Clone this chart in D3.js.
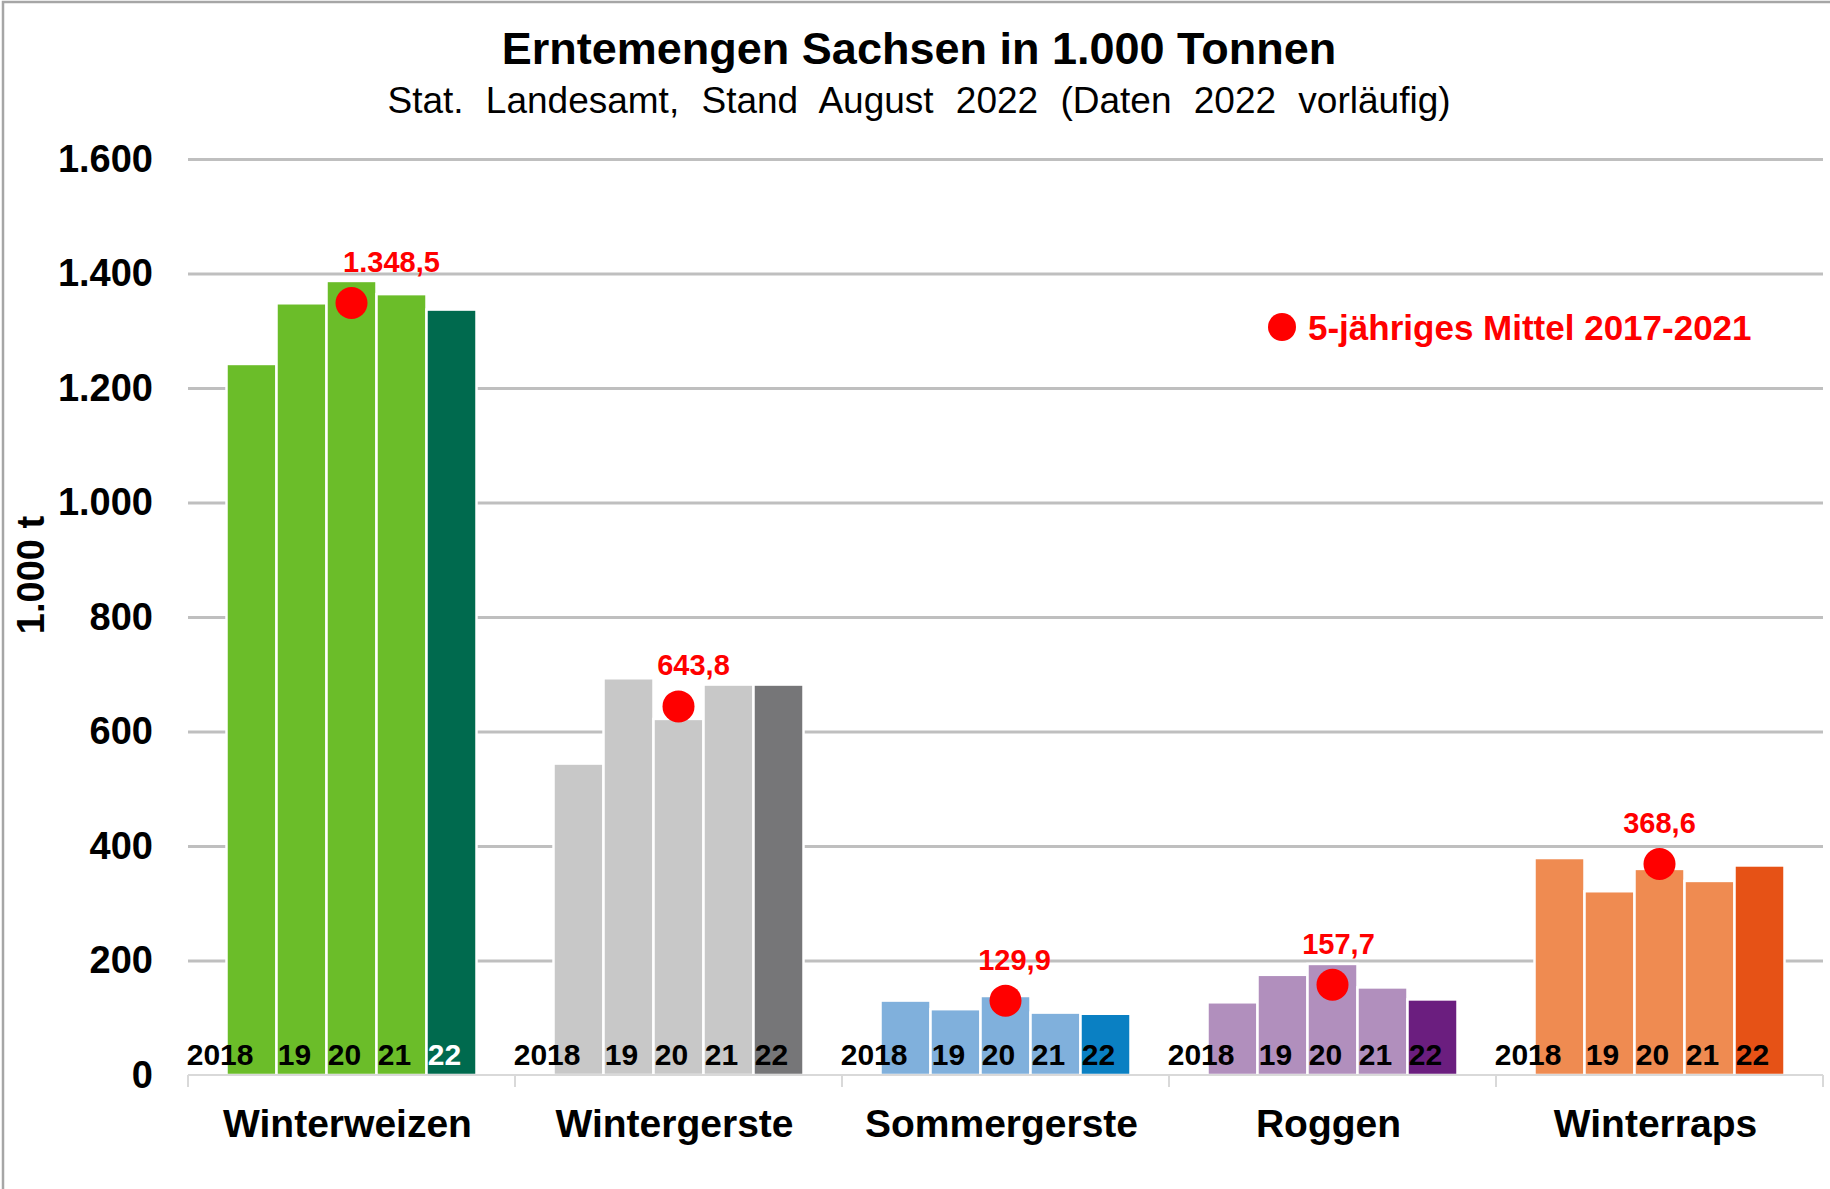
<!DOCTYPE html>
<html>
<head>
<meta charset="utf-8">
<script src="https://cdn.jsdelivr.net/npm/d3@7"></script>
<style>
  body { margin: 0; background: #fff; }
  text { font-family: "Liberation Sans", Arial, sans-serif; }
</style>
</head>
<body>
<svg id="chart" width="1830" height="1189"></svg>
<script>
// init data
const crops = ["Winterweizen", "Wintergerste", "Sommergerste", "Roggen", "Winterraps"];
const years = ["2018", "19", "20", "21", "22"];
const winterweizen = [1242, 1348, 1387, 1364, 1337];
const wintergerste = [544, 693, 622, 682, 682];
const sommergerste = [130, 115, 138, 109, 107];
const roggen = [127, 175, 194, 153, 132];
const winterraps = [379, 321, 360, 339, 366];
const means = [1348.5, 643.8, 129.9, 157.7, 368.6];
const yTicks = [0, 200, 400, 600, 800, 1000, 1200, 1400, 1600];

const series = [winterweizen, wintergerste, sommergerste, roggen, winterraps];
const lightColors = ["#6bbd29", "#c8c8c8", "#80b0dc", "#b18fbd", "#ef8b51"],
      darkColors  = ["#006a4e", "#767678", "#0a80c3", "#6b1e7f", "#e65216"],
      meanDx = [40, 15, 9, 6, 0];   // label nudges as in the original

const de = d3.formatLocale({decimal: ",", thousands: ".", grouping: [3], currency: ["", " €"]}),
      fmtTick = de.format(","),
      fmtMean = de.format(",.1f");

const svg = d3.select("#chart"),
    width = +svg.attr("width"),
    height = +svg.attr("height"),
    margin = {top: 159, right: 7, bottom: 114, left: 188},
    plotW = width - margin.left - margin.right,
    plotH = height - margin.top - margin.bottom;

// scales
const x0 = d3.scaleBand().domain(crops).range([0, plotW]);
const x1 = d3.scaleBand().domain(years).range([0, x0.bandwidth()])
    .paddingInner(0).paddingOuter(0.77);
const y = d3.scaleLinear().domain([0, 1600]).range([plotH, 0]);

// frame
svg.append("path")
    .attr("d", "M3,1189V2H1830")
    .attr("fill", "none")
    .attr("stroke", "#a6a6a6")
    .attr("stroke-width", 2.5);

// titles
svg.append("text")
    .attr("x", 919).attr("y", 64)
    .attr("text-anchor", "middle")
    .style("font-size", "45px").style("font-weight", "bold")
    .text("Erntemengen Sachsen in 1.000 Tonnen");
svg.append("text")
    .attr("x", 919).attr("y", 113)
    .attr("text-anchor", "middle")
    .style("font-size", "37px").style("word-spacing", "12px")
    .text("Stat. Landesamt, Stand August 2022 (Daten 2022 vorläufig)");

const g = svg.append("g")
    .attr("transform", "translate(" + margin.left + "," + margin.top + ")");

// y axis + grid
const yAxis = g.append("g")
    .call(d3.axisLeft(y).tickValues(yTicks).tickSize(-plotW).tickPadding(35).tickFormat(fmtTick));
yAxis.select(".domain").remove();
yAxis.selectAll(".tick line")
    .attr("stroke", "#bfbfbf")
    .attr("stroke-width", 3)
    .filter(function(d) { return d === 0; }).remove();
yAxis.selectAll(".tick text")
    .attr("fill", "#000")
    .style("font-size", "38px").style("font-weight", "bold")
    .style("font-family", "'Liberation Sans', Arial, sans-serif");

svg.append("text")
    .attr("transform", "translate(44,575) rotate(-90)")
    .attr("text-anchor", "middle")
    .style("font-size", "38px").style("font-weight", "bold")
    .text("1.000 t");

// bars
const group = g.append("g")
    .attr("class", "groups")
  .selectAll("g")
    .data(crops)
  .enter().append("g")
    .attr("transform", function(d) { return "translate(" + x0(d) + ",0)"; });

group.selectAll("rect")
    .data(function(d, i) { return series[i].map(function(v, j) { return {crop: i, year: years[j], idx: j, value: v}; }); })
  .enter().append("rect")
    .attr("x", function(d) { return x1(d.year); })
    .attr("y", function(d) { return y(d.value); })
    .attr("width", x1.bandwidth())
    .attr("height", function(d) { return plotH - y(d.value); })
    .attr("fill", function(d) { return d.idx === 4 ? darkColors[d.crop] : lightColors[d.crop]; })
    .attr("stroke", "#fff")
    .attr("stroke-width", 2.5);

// year labels inside bars
group.selectAll("text.year")
    .data(function(d, i) { return years.map(function(yr, j) { return {crop: i, year: yr, idx: j}; }); })
  .enter().append("text")
    .attr("class", "year")
    .attr("x", function(d) { return x1(d.year) + x1.bandwidth() / 2 + (d.idx === 0 ? 2 : -7); })
    .attr("y", plotH - 10)
    .attr("text-anchor", function(d) { return d.idx === 0 ? "end" : "middle"; })
    .attr("fill", function(d) { return d.crop === 0 && d.idx === 4 ? "#fff" : "#000"; })
    .style("font-size", "30px").style("font-weight", "bold")
    .text(function(d) { return d.year; });

// x axis baseline with category separators
const xAxis = g.append("g").attr("transform", "translate(0," + plotH + ")");
xAxis.append("line")
    .attr("x1", 0).attr("x2", plotW)
    .attr("stroke", "#d9d9d9").attr("stroke-width", 2);
xAxis.selectAll("line.sep")
    .data(crops.concat(["end"]))
  .enter().append("line")
    .attr("class", "sep")
    .attr("x1", function(d, i) { return i * x0.step(); })
    .attr("x2", function(d, i) { return i * x0.step(); })
    .attr("y1", 0).attr("y2", 12)
    .attr("stroke", "#d9d9d9").attr("stroke-width", 2);
xAxis.selectAll("text.cat")
    .data(crops)
  .enter().append("text")
    .attr("class", "cat")
    .attr("x", function(d) { return x0(d) + x0.bandwidth() / 2 - 4; })
    .attr("y", 62)
    .attr("text-anchor", "middle")
    .style("font-size", "39px").style("font-weight", "bold")
    .text(function(d) { return d; });

// 5-year means
const mid = years[2];
g.selectAll("circle.mean")
    .data(means)
  .enter().append("circle")
    .attr("class", "mean")
    .attr("cx", function(d, i) { return x0(crops[i]) + x1(mid) + x1.bandwidth() / 2; })
    .attr("cy", function(d) { return y(d); })
    .attr("r", 16)
    .attr("fill", "#ff0000");
g.selectAll("text.mean")
    .data(means)
  .enter().append("text")
    .attr("class", "mean")
    .attr("x", function(d, i) { return x0(crops[i]) + x1(mid) + x1.bandwidth() / 2 + meanDx[i]; })
    .attr("y", function(d) { return y(d) - 31; })
    .attr("text-anchor", "middle")
    .attr("fill", "#ff0000")
    .style("font-size", "29px").style("font-weight", "bold")
    .text(function(d) { return fmtMean(d); });

// legend
const legend = svg.append("g").attr("transform", "translate(1282,327)");
legend.append("circle").attr("r", 14).attr("fill", "#ff0000");
legend.append("text")
    .attr("x", 26).attr("y", 13)
    .attr("fill", "#ff0000")
    .style("font-size", "35px").style("font-weight", "bold")
    .text("5-jähriges Mittel 2017-2021");
</script>
</body>
</html>
